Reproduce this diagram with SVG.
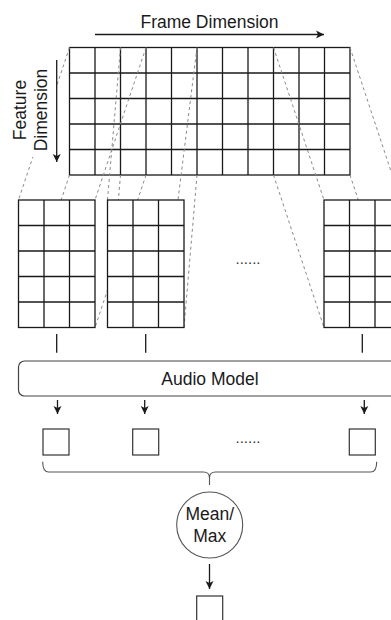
<svg xmlns="http://www.w3.org/2000/svg" xmlns:xlink="http://www.w3.org/1999/xlink" width="391" height="620" viewBox="0 0 391 620">
  <style>
    .lbl { font-family: "Liberation Sans", Arial, Helvetica, sans-serif; font-size: 17.5px; fill: #1a1a1a; text-anchor: middle; }
    .dots { font-family: "Liberation Sans", Arial, sans-serif; font-size: 15px; fill: #333; text-anchor: middle; }
    .grid { fill: #fff; stroke: #1a1a1a; stroke-width: 1.3; }
    .gline { fill: none; stroke: #1a1a1a; stroke-width: 1.3; }
    .proj { fill: none; stroke: #8a8a8a; stroke-width: 1; stroke-dasharray: 3 3; }
    .solid { fill: none; stroke: #1a1a1a; stroke-width: 1.3; }
    .arrow { fill: none; stroke: #1a1a1a; stroke-width: 1.3; marker-end: url(#head); }
    .box { fill: #fff; stroke: #333; stroke-width: 1.2; }
  </style>
  <defs>
    <marker id="head" markerUnits="userSpaceOnUse" markerWidth="9" markerHeight="9" refX="8" refY="4.5" orient="auto">
      <path d="M0,0.5 L8,4.5 L0,8.5 L2,4.5 z" fill="#1a1a1a"/>
    </marker>
    <!-- 3 x 5 window of 25.5 px cells -->
    <g id="win">
      <rect class="grid" x="0" y="0" width="76.5" height="127.5"/>
      <path class="gline" d="M25.5,0 V127.5 M51,0 V127.5 M0,25.5 H76.5 M0,51 H76.5 M0,76.5 H76.5 M0,102 H76.5"/>
    </g>
  </defs>

  <!-- full feature map: 11 frames x 5 features -->
  <g id="feature-map">
    <rect class="grid" x="69.5" y="47.5" width="280.5" height="127.5"/>
    <path class="gline" d="M95,47.5 V175 M120.5,47.5 V175 M146,47.5 V175 M171.5,47.5 V175 M197,47.5 V175 M222.5,47.5 V175 M248,47.5 V175 M273.5,47.5 V175 M299,47.5 V175 M324.5,47.5 V175
                           M69.5,73 H350 M69.5,98.5 H350 M69.5,124 H350 M69.5,149.5 H350"/>
  </g>

  <g id="frame-axis">
    <text class="lbl" x="209.5" y="28.3">Frame Dimension</text>
  </g>

  <g id="connectors">
    <!-- projections from the feature map to each window -->
    <path class="proj" d="M69.5,47.5 L18.5,200 M146,47.5 L95,200 M69.5,175 L18.5,327.5 M146,175 L95,327.5"/>
    <path class="proj" d="M120.5,47.5 L107.5,200 M197,47.5 L178,200 M120.5,175 L107.5,327.5 M197,175 L184,327.5"/>
    <path class="proj" d="M273.5,47.5 L324,200 M350,47.5 L400.5,200 M273.5,175 L324,327.5 M350,175 L400.5,327.5"/>
  </g>

  <g id="feature-axis">
    <rect x="8" y="62" width="48" height="95" fill="#fff"/>
    <text class="lbl" transform="translate(26,110) rotate(-90)">Feature</text>
    <text class="lbl" transform="translate(47.3,110) rotate(-90)">Dimension</text>
  </g>

  <g id="axis-arrows">
    <line class="arrow" x1="95" y1="34.5" x2="324" y2="34.5"/>
    <line class="arrow" x1="56.7" y1="60" x2="56.7" y2="162"/>
  </g>

  <g id="window-1"><use xlink:href="#win" x="18.5" y="200"/></g>
  <g id="window-2"><use xlink:href="#win" x="107.5" y="200"/></g>
  <g id="window-gap"><text class="dots" x="248" y="263.5">......</text></g>
  <g id="window-n"><use xlink:href="#win" x="324" y="200"/></g>

  <g id="model-links">
    <path class="solid" d="M56.7,334 V352.7 M145.7,334 V352.7 M362.3,334 V352.7"/>
  </g>

  <g id="audio-model">
    <rect x="18.5" y="361" width="383" height="35" rx="6" fill="#fff" stroke="#444" stroke-width="1.2"/>
    <text class="lbl" x="210" y="384.5">Audio Model</text>
  </g>

  <g id="embedding-arrows">
    <line class="arrow" x1="57.5" y1="400" x2="57.5" y2="414"/>
    <line class="arrow" x1="144.7" y1="400" x2="144.7" y2="414"/>
    <line class="arrow" x1="364.3" y1="400" x2="364.3" y2="414"/>
  </g>

  <g id="embedding-1"><rect class="box" x="43" y="429" width="26" height="26"/></g>
  <g id="embedding-2"><rect class="box" x="132.7" y="429" width="26" height="26"/></g>
  <g id="embedding-gap"><text class="dots" x="248" y="442.5">......</text></g>
  <g id="embedding-n"><rect class="box" x="349.3" y="429" width="26" height="26"/></g>

  <g id="brace">
    <path fill="none" stroke="#555" stroke-width="1.1" d="M42.7,461.7 Q42.7,472 48.7,472 L203.5,472 Q209.5,472 209.5,478 L209.5,485 M209.5,478 Q209.5,472 215.5,472 L370.7,472 Q376.7,472 376.7,461.7"/>
  </g>

  <g id="pooling">
    <circle cx="209.7" cy="525" r="33" fill="#fff" stroke="#555" stroke-width="1.1"/>
    <text class="lbl" x="209.7" y="519.5">Mean/</text>
    <text class="lbl" x="209.7" y="541.7">Max</text>
  </g>

  <g id="pool-arrow">
    <line class="arrow" x1="209.5" y1="564" x2="209.5" y2="589"/>
  </g>

  <g id="clip-embedding"><rect class="box" x="196.7" y="596" width="26" height="26"/></g>
</svg>
